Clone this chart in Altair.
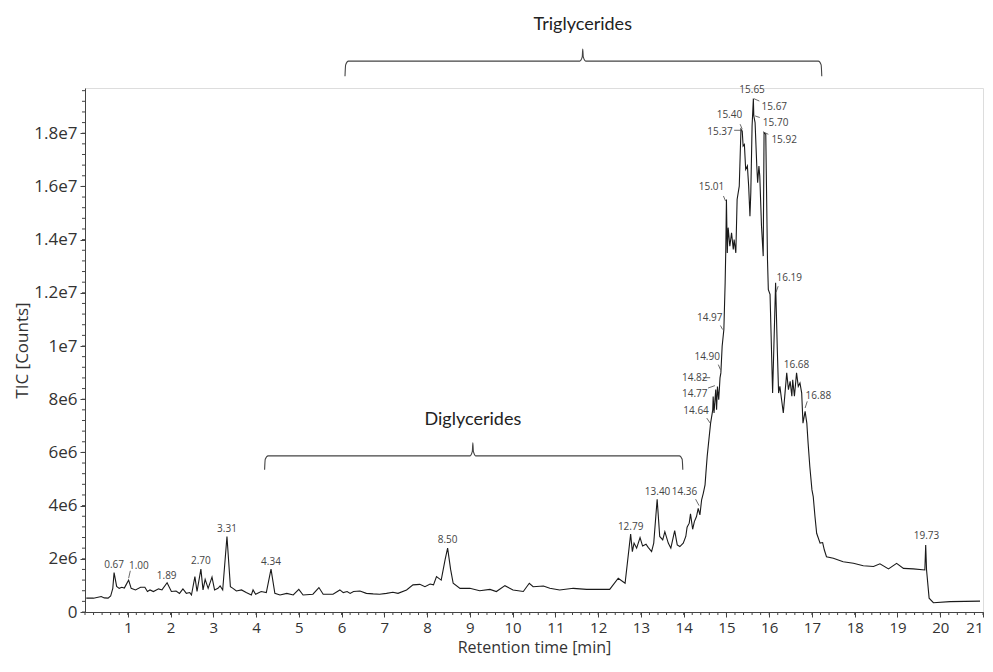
import altair as alt
import pandas as pd

# ---- chromatogram trace (retention time [min], TIC in millions of counts) ----
rt = [0.03, 0.20, 0.38, 0.45, 0.54, 0.60, 0.65, 0.68, 0.74, 0.80, 0.86, 0.92, 0.96, 1.02, 1.08, 1.18,
      1.30, 1.40, 1.46, 1.52, 1.60, 1.72, 1.80, 1.92, 2.02, 2.13, 2.21, 2.29, 2.37, 2.45, 2.49, 2.57,
      2.62, 2.71, 2.76, 2.81, 2.88, 2.97, 3.03, 3.11, 3.16, 3.22, 3.32, 3.40, 3.46, 3.54, 3.66, 3.77,
      3.89, 3.93, 3.99, 4.12, 4.24, 4.35, 4.44, 4.56, 4.72, 4.87, 5.00, 5.10, 5.33, 5.47, 5.57, 5.80,
      5.96, 6.04, 6.13, 6.20, 6.28, 6.43, 6.58, 6.74, 6.89, 7.05, 7.20, 7.32, 7.52, 7.67, 7.83, 7.95,
      8.07, 8.15, 8.22, 8.33, 8.42, 8.48, 8.55, 8.61, 8.77, 9.00, 9.23, 9.47, 9.62, 9.82, 10.01, 10.25,
      10.39, 10.48, 10.72, 10.87, 11.10, 11.42, 11.73, 12.27, 12.47, 12.63, 12.76, 12.80, 12.84, 12.90,
      12.98, 13.04, 13.12, 13.17, 13.25, 13.30, 13.38, 13.44, 13.51, 13.56, 13.64, 13.70, 13.79, 13.85,
      13.91, 13.99, 14.05, 14.08, 14.13, 14.16, 14.21, 14.25, 14.30, 14.34, 14.38, 14.42, 14.46, 14.50,
      14.52, 14.55, 14.59, 14.63, 14.68, 14.69, 14.71, 14.75, 14.77, 14.79, 14.82, 14.85, 14.87, 14.90,
      14.94, 14.97, 14.985, 15.00, 15.02, 15.04, 15.08, 15.12, 15.16, 15.18, 15.22, 15.25, 15.30, 15.34,
      15.37, 15.39, 15.42, 15.45, 15.49, 15.52, 15.55, 15.57, 15.60, 15.63, 15.64, 15.67, 15.71, 15.73,
      15.76, 15.78, 15.82, 15.86, 15.88, 15.92, 15.96, 15.98, 16.02, 16.08, 16.15, 16.19, 16.22, 16.25,
      16.29, 16.33, 16.37, 16.41, 16.45, 16.49, 16.53, 16.55, 16.59, 16.64, 16.68, 16.72, 16.76, 16.79,
      16.84, 16.88, 16.91, 16.95, 17.00, 17.03, 17.07, 17.11, 17.19, 17.25, 17.29, 17.34, 17.50, 17.73,
      17.97, 18.20, 18.44, 18.59, 18.79, 18.98, 19.14, 19.37, 19.64, 19.66, 19.68, 19.74, 19.84, 20.23,
      20.93]
tic_m = [0.52, 0.52, 0.58, 0.53, 0.52, 0.60, 0.89, 1.48, 0.96, 0.89, 0.93, 0.90, 1.02, 1.20, 0.89, 0.83,
         0.93, 0.93, 0.77, 0.83, 0.77, 0.87, 0.83, 1.10, 0.77, 0.79, 0.70, 0.87, 0.70, 0.73, 0.64, 1.33,
         0.77, 1.61, 0.83, 1.23, 0.89, 1.31, 0.83, 0.89, 0.98, 0.83, 2.84, 0.95, 0.89, 0.79, 0.83, 0.73,
         0.64, 0.83, 0.67, 0.77, 0.73, 1.61, 0.70, 0.64, 0.70, 0.64, 0.85, 0.64, 0.67, 0.92, 0.67, 0.67,
         0.83, 0.73, 0.77, 0.70, 0.77, 0.79, 0.70, 0.68, 0.67, 0.70, 0.74, 0.70, 0.83, 1.02, 1.04, 0.95,
         1.05, 1.02, 1.33, 1.20, 1.96, 2.40, 1.60, 1.08, 0.89, 0.89, 0.80, 0.85, 0.77, 0.99, 0.83, 0.77,
         1.08, 0.95, 0.98, 0.89, 0.83, 0.89, 0.85, 0.85, 1.27, 1.08, 2.93, 2.27, 2.59, 2.40,
         2.80, 2.48, 2.55, 2.43, 2.27, 2.59, 4.24, 2.84, 2.71, 3.02, 2.59, 2.40, 3.06, 2.52,
         2.46, 2.59, 2.84, 3.19, 3.34, 3.69, 3.11, 3.40, 3.59, 3.90, 3.65, 4.22, 4.47, 4.78,
         5.22, 5.85, 6.48, 7.10, 7.60, 8.10, 7.48, 8.36, 7.60, 8.48, 7.98, 8.80, 8.99, 9.99,
         10.62, 12.38, 13.63, 15.51, 13.50, 14.45, 13.75, 14.26, 13.63, 14.00, 13.50, 15.51, 16.01, 18.15,
         18.08, 17.52, 17.58, 16.64, 16.77, 16.01, 14.88, 15.76, 18.27, 19.30, 18.65, 18.40, 16.77, 16.14,
         16.77, 16.39, 14.51, 13.38, 18.02, 17.96, 13.25, 12.12, 11.94, 8.23, 12.38, 9.86, 8.23, 8.48,
         7.98, 7.48, 8.23, 8.99, 8.36, 8.67, 8.11, 8.73, 8.11, 8.99, 8.48, 8.61, 8.23, 7.10,
         7.54, 7.10, 6.35, 5.47, 4.59, 4.34, 3.60, 2.96, 2.59, 2.61, 2.33, 2.08, 2.02, 1.89,
         1.83, 1.74, 1.71, 1.81, 1.62, 1.83, 1.64, 1.62, 1.58, 2.52, 1.58, 0.52, 0.35, 0.39,
         0.41]

# ---- peak annotations (text anchor in data units) ----
peak_text = ["0.67", "1.00", "1.89", "2.70", "3.31", "4.34", "8.50", "12.79", "13.40", "14.36",
             "14.64", "14.77", "14.82", "14.90", "14.97", "15.01", "15.37", "15.40", "15.65", "15.67",
             "15.70", "15.92", "16.19", "16.68", "16.88", "19.73"]
peak_lx = [0.68, 1.26, 1.91, 2.71, 3.32, 4.35, 8.48, 12.76, 13.39, 14.02,
           14.29, 14.26, 14.26, 14.55, 14.61, 14.65, 14.85, 15.07, 15.60, 16.12,
           16.15, 16.35, 16.47, 16.64, 17.15, 19.68]
peak_ly = [1.77, 1.73, 1.37, 1.92, 3.11, 1.87, 2.71, 3.19, 4.51, 4.51,
           7.57, 8.20, 8.80, 9.57, 11.06, 15.99, 18.05, 18.67, 19.62, 19.00,
           18.37, 17.75, 12.54, 9.30, 8.13, 2.86]

# leader ticks from label to peak
lead_x1 = [1.06, 14.28, 16.21, 14.86, 14.81, 14.45, 14.57, 14.54, 14.93, 15.32, 15.18, 15.64, 15.67, 15.86, 16.89]
lead_y1 = [1.55, 4.24, 12.25, 10.77, 9.30, 8.81, 8.42, 7.29, 15.64, 18.34, 18.11, 19.30, 18.65, 18.05, 7.92]
lead_x2 = [1.02, 14.36, 16.16, 14.91, 14.86, 14.62, 14.73, 14.62, 14.98, 15.37, 15.36, 15.77, 15.78, 15.98, 16.84]
lead_y2 = [1.27, 4.00, 12.02, 10.62, 9.11, 8.81, 8.51, 7.10, 15.45, 18.15, 18.11, 19.21, 18.59, 17.96, 7.67]

# ---- group braces ----
brace_names = ["Triglycerides", "Diglycerides"]
brace_left = [6.08, 4.20]
brace_right = [17.23, 13.98]
brace_center = [11.64, 9.07]
brace_bar = [20.71, 5.87]
brace_end = [20.14, 5.35]
brace_tip = [21.16, 6.36]
brace_label_y = [22.05, 7.23]

# ---- axes ----
x_tick_values = list(range(1, 22))
y_tick_values = [0, 2000000, 4000000, 6000000, 8000000, 10000000, 12000000, 14000000, 16000000, 18000000]
y_tick_labels = ["0", "2e6", "4e6", "6e6", "8e6", "1e7", "1.2e7", "1.4e7", "1.6e7", "1.8e7"]

M = 1e6
W, H = 898, 524
FONT = "Open Sans"
TXT = "#333333"

trace = pd.DataFrame({"rt": rt, "tic": [v * M for v in tic_m]})
labels = pd.DataFrame({"x": peak_lx, "y": [v * M for v in peak_ly], "t": peak_text})
leads = pd.DataFrame({"x": lead_x1, "y": [v * M for v in lead_y1],
                      "x2": lead_x2, "y2": [v * M for v in lead_y2]})

brace_rows = []
for i, name in enumerate(brace_names):
    L, R, C = brace_left[i], brace_right[i], brace_center[i]
    b, e, t = brace_bar[i], brace_end[i], brace_tip[i]
    d = (b - e) * 0.25
    pts = [(L, e), (L + 0.015, b - d), (L + 0.08, b), (C - 0.07, b), (C - 0.012, b + (t - b) * 0.35),
           (C, t), (C + 0.012, b + (t - b) * 0.35), (C + 0.07, b), (R - 0.08, b), (R - 0.015, b - d), (R, e)]
    for k, (px, py) in enumerate(pts):
        brace_rows.append({"g": name, "k": k, "x": px, "y": py * M})
braces = pd.DataFrame(brace_rows)
brace_lbl = pd.DataFrame({"x": brace_center, "y": [v * M for v in brace_label_y], "t": brace_names})

minor_x = pd.DataFrame({"v": [round(i * 0.2, 1) for i in range(0, 106)]})
minor_y = pd.DataFrame({"v": [round(i * 0.4, 1) * M for i in range(0, 50)]})

xs = alt.Scale(domain=[0, 21], nice=False, zero=False)
ys = alt.Scale(domain=[0, 19.7 * M], nice=False)

label_expr = " : ".join(f"datum.value == {v} ? '{l}'" for v, l in zip(y_tick_values, y_tick_labels)) + " : ''"

line = alt.Chart(trace).mark_line(color="#1a1a1a", strokeWidth=1.1).encode(
    x=alt.X("rt:Q", scale=xs, title="Retention time [min]",
            axis=alt.Axis(values=x_tick_values, format="d", grid=False, tickSize=5,
                          labelFontSize=15, labelColor=TXT, labelFont=FONT, labelPadding=3,
                          titleFontSize=16, titleColor=TXT, titleFont=FONT, titleFontWeight="normal",
                          titlePadding=4, domainColor="#444", tickColor="#444")),
    y=alt.Y("tic:Q", scale=ys, title="TIC [Counts]",
            axis=alt.Axis(values=y_tick_values, labelExpr=label_expr,
                          grid=False, tickSize=5,
                          labelFontSize=17, labelColor=TXT, labelFont=FONT, labelPadding=3,
                          titleFontSize=17, titleColor=TXT, titleFont=FONT, titleFontWeight="normal",
                          titlePadding=2, domainColor="#444", tickColor="#444")),
    order="rt:Q",
)

mx = alt.Chart(minor_x).mark_rule(color="#444", strokeWidth=1).encode(
    x=alt.X("v:Q", scale=xs), y=alt.value(H), y2=alt.value(H + 3))
my = alt.Chart(minor_y).mark_rule(color="#444", strokeWidth=1).encode(
    y=alt.Y("v:Q", scale=ys), x=alt.value(0), x2=alt.value(-3))

ptxt = alt.Chart(labels).mark_text(font=FONT, fontSize=10, color="#444", baseline="middle", align="center").encode(
    x=alt.X("x:Q", scale=xs), y=alt.Y("y:Q", scale=ys), text="t:N")

plead = alt.Chart(leads).mark_rule(color="#444", strokeWidth=0.8).encode(
    x=alt.X("x:Q", scale=xs), y=alt.Y("y:Q", scale=ys), x2="x2:Q", y2="y2:Q")

bline = alt.Chart(braces).mark_line(color="#444", strokeWidth=1.1, interpolate="monotone").encode(
    x=alt.X("x:Q", scale=xs), y=alt.Y("y:Q", scale=ys), detail="g:N", order="k:Q")

btxt = alt.Chart(brace_lbl).mark_text(font="Lato", fontSize=18, color="#222", baseline="middle").encode(
    x=alt.X("x:Q", scale=xs), y=alt.Y("y:Q", scale=ys), text="t:N")

chart = alt.layer(mx, my, line, plead, ptxt, bline, btxt).properties(
    width=W, height=H,
    autosize=alt.AutoSizeParams(type="none"),
    padding={"left": 77, "top": 80, "right": 2, "bottom": 52},
).configure_view(stroke=None).configure(background="white")

chart.save("out.html", embed_options={"renderer": "svg", "actions": False})
